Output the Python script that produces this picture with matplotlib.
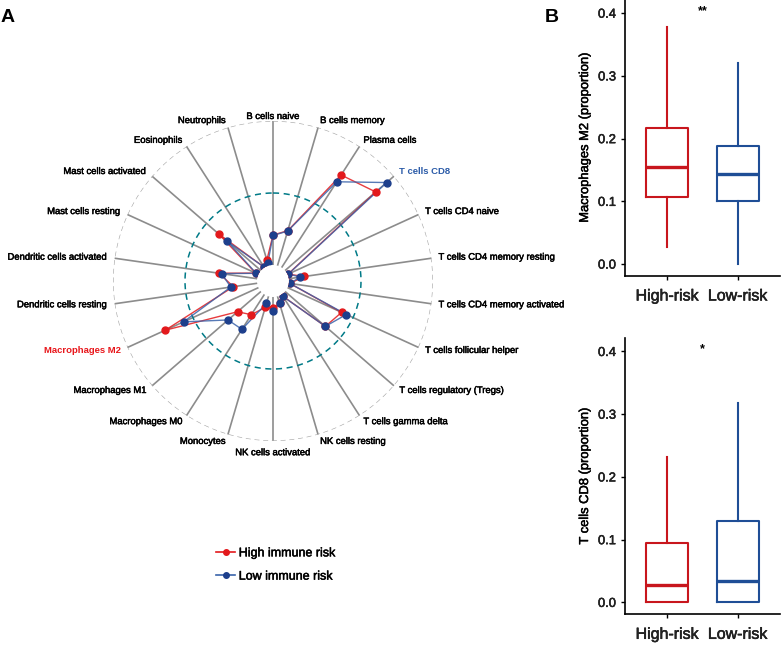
import numpy as np
import matplotlib
matplotlib.use("Agg")
import matplotlib.pyplot as plt
import matplotlib.patheffects as pe
from matplotlib.lines import Line2D

plt.rcParams['font.family'] = ['Liberation Sans', 'DejaVu Sans']

# radar data (scaled 0..1, clockwise from top)
cells = ["B cells naive", "B cells memory", "Plasma cells", "T cells CD8",
         "T cells CD4 naive", "T cells CD4 memory resting",
         "T cells CD4 memory activated", "T cells follicular helper",
         "T cells regulatory (Tregs)", "T cells gamma delta", "NK cells resting",
         "NK cells activated", "Monocytes", "Macrophages M0", "Macrophages M1",
         "Macrophages M2", "Dendritic cells resting", "Dendritic cells activated",
         "Mast cells resting", "Mast cells activated", "Eosinophils", "Neutrophils"]
high_risk = [0.208, 0.253, 0.764, 0.833, 0.003, 0.109, 0.007, 0.413, 0.370, 0.014, 0.050,
             0.078, 0.080, 0.167, 0.215, 0.712, 0.167, 0.267, 0.021, 0.386, 0.003, 0.040]
low_risk = [0.205, 0.250, 0.708, 0.933, 0.007, 0.080, 0.007, 0.449, 0.370, 0.016, 0.051,
            0.097, 0.051, 0.288, 0.302, 0.572, 0.185, 0.250, 0.017, 0.310, 0.005, 0.017]

# boxplot summaries: whisker low, q1, median, q3, whisker high
groups = ["High-risk", "Low-risk"]
m2_stats = [[0.028, 0.107, 0.154, 0.217, 0.378],
            [0.000, 0.100, 0.143, 0.189, 0.321]]
cd8_stats = [[0.000, 0.000, 0.027, 0.094, 0.231],
             [0.000, 0.000, 0.034, 0.129, 0.318]]

red = '#E3191C'
blue = '#1D3F8C'
blue_line = '#3A63AA'
box_red = '#C8161D'
box_blue = '#1F4E96'
thick = [pe.withStroke(linewidth=0.35, foreground='black')]

fig = plt.figure(figsize=(7.83, 6.48), dpi=100)

# ---- panel A : radar
ax = fig.add_axes([113/783, (648-441)/648, 320/783, 320/648], projection='polar')
ax.set_theta_zero_location('N')
ax.set_theta_direction(-1)
ax.set_ylim(0, 1)
ax.set_rorigin(-1/9)
ax.grid(False)
ax.set_xticks([])
ax.set_yticks([])
# polar axes turn the inner spine back on at draw time, so hide its stroke instead
for sp in ax.spines.values():
    sp.set_visible(False)
    sp.set_linewidth(0)
    sp.set_edgecolor('none')

n = len(cells)
theta = np.arange(n) * 2 * np.pi / n
for t in theta:
    ax.plot([t, t], [0, 1], color='#8C8C8C', lw=1.2, zorder=1)
circ = np.linspace(0, 2*np.pi, 400)
ax.plot(circ, np.ones_like(circ), color='#AAAAAA', lw=0.9, ls=(0, (4, 3)), zorder=1)
ax.plot(circ, np.full_like(circ, 0.5), color='#007A87', lw=1.1, ls=(0, (4, 3)), zorder=1)

# close the polygon at 2*pi so the last chord does not wrap round the centre
tc = np.append(theta, 2 * np.pi)
for vals, lcol, mcol in [(high_risk, red, red), (low_risk, blue_line, blue)]:
    v = np.append(vals, vals[0])
    ln, = ax.plot(tc, v, color=lcol, lw=1.0, alpha=0.85, zorder=3)
    ln.get_path()._interpolation_steps = 1
    ax.plot(theta, vals, 'o', color=mcol, ms=5, zorder=4)

for t, lab in zip(theta, cells):
    s = np.sin(t)
    col, wt, eff = 'black', 'normal', thick
    if lab == "Macrophages M2":
        col, wt, eff = '#E8161B', 'bold', None
    if lab == "T cells CD8":
        col, wt, eff = '#2B5BA8', 'bold', None
    if abs(s) < 0.05:
        if np.cos(t) > 0:
            ax.text(t, 1.0, lab, ha='center', va='bottom', fontsize=6.8, color=col,
                    weight=wt, path_effects=eff)
        else:
            ax.text(t, 1.05, lab, ha='center', va='top', fontsize=6.8, color=col,
                    weight=wt, path_effects=eff)
    else:
        ha = 'left' if s > 0 else 'right'
        ax.text(t, 1.05, lab, ha=ha, va='center', fontsize=6.8, color=col,
                weight=wt, path_effects=eff)

handles = [Line2D([], [], color=red, marker='o', ms=4, lw=1.2),
           Line2D([], [], color=blue_line, marker='o', mfc=blue, mec=blue, ms=4, lw=1.2)]
leg = fig.legend(handles, ["High immune risk", "Low immune risk"], loc='center left',
                 bbox_to_anchor=(205/783, 1-565/648), frameon=False, fontsize=9,
                 handlelength=1.5, handletextpad=0.3, labelspacing=0.9)
for txt in leg.get_texts():
    txt.set_path_effects(thick)

fig.text(1/783, 1-17/648, "A", fontsize=14, weight='bold', va='center')
fig.text(545/783, 1-17/648, "B", fontsize=14, weight='bold', va='center')

# ---- panel B : boxplots
def box_panel(rect, stats, ylabel, star):
    bx = fig.add_axes(rect)
    bstats = [dict(whislo=s[0], q1=s[1], med=s[2], q3=s[3], whishi=s[4], label=g)
              for s, g in zip(stats, groups)]
    parts = bx.bxp(bstats, positions=[1, 2], widths=0.6, showfliers=False,
                   showcaps=False, patch_artist=False)
    for i, col in enumerate([box_red, box_blue]):
        parts['boxes'][i].set(color=col, lw=1.5)
        parts['medians'][i].set(color=col, lw=2.4)
        for w in parts['whiskers'][2*i:2*i+2]:
            w.set(color=col, lw=1.5)
    bx.set_xlim(0.4, 2.6)
    bx.set_ylim(-0.019, 0.421)
    bx.set_yticks([0.0, 0.1, 0.2, 0.3, 0.4])
    bx.set_yticklabels(['0.0', '0.1', '0.2', '0.3', '0.4'])
    bx.set_xticks([1, 2])
    bx.set_xticklabels(groups)
    bx.tick_params(axis='y', labelsize=9.3, length=3, width=1)
    bx.tick_params(axis='x', labelsize=11.5, length=3, width=1, pad=6)
    bx.tick_params(colors='black', which='both', labelcolor='#222222')
    for lab in bx.get_xticklabels() + bx.get_yticklabels():
        lab.set_path_effects(thick)
    for sp in ['top', 'right']:
        bx.spines[sp].set_visible(False)
    for sp in ['left', 'bottom']:
        bx.spines[sp].set_linewidth(1.2)
    bx.set_ylabel(ylabel, fontsize=9.3, labelpad=5, path_effects=thick)
    bx.text(1.5, 0.403, star, ha='center', va='center', fontsize=9, weight='bold')
    return bx

box_panel([625/783, (648-276)/648, 155/783, 276/648], m2_stats,
          "Macrophages M2 (proportion)", "**")
box_panel([625/783, (648-614.3)/648, 155/783, 276/648], cd8_stats,
          "T cells CD8 (proportion)", "*")

fig.savefig("out.png", dpi=100)
